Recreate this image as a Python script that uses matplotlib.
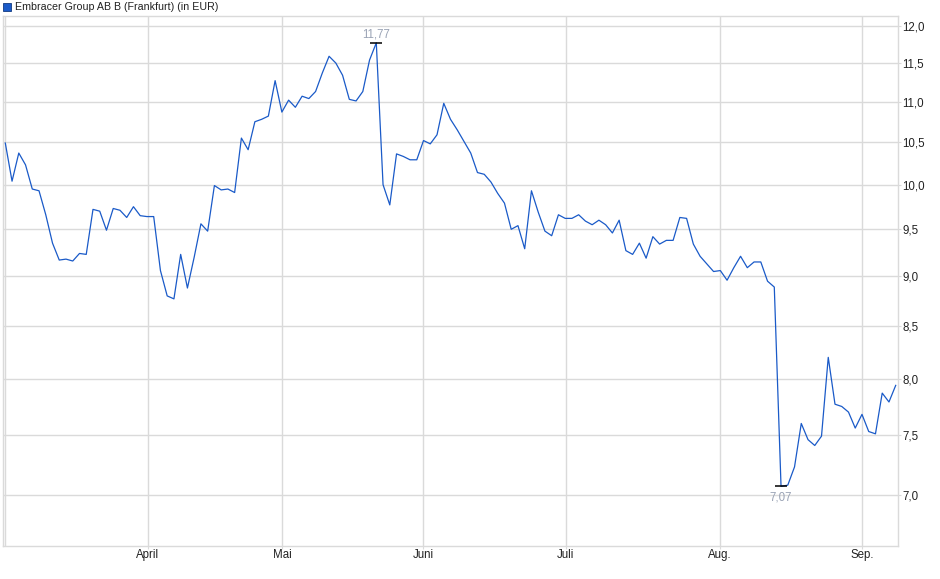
import matplotlib
matplotlib.use("Agg")
import matplotlib.pyplot as plt
from matplotlib.patches import Rectangle
from matplotlib.ticker import FixedLocator, FuncFormatter, NullLocator
import numpy as np

# daily closing prices (Frankfurt, EUR), one per trading day
prices = [
    10.49, 10.04, 10.37, 10.23, 9.95, 9.93, 9.66, 9.35, 9.17, 9.18,
    9.16, 9.24, 9.23, 9.72, 9.70, 9.49, 9.73, 9.71, 9.63, 9.75,
    9.65, 9.64, 9.64, 9.06, 8.80, 8.77, 9.23, 8.88, 9.20, 9.56,
    9.48, 9.99, 9.94, 9.95, 9.91, 10.55, 10.41, 10.75, 10.78, 10.82,
    11.27, 10.87, 11.02, 10.93, 11.07, 11.04, 11.13, 11.37, 11.59, 11.50,
    11.34, 11.03, 11.01, 11.13, 11.54, 11.77, 10.00, 9.77, 10.36, 10.33,
    10.29, 10.29, 10.52, 10.48, 10.59, 10.98, 10.78, 10.65, 10.51, 10.37,
    10.14, 10.12, 10.03, 9.90, 9.79, 9.50, 9.54, 9.29, 9.93, 9.69,
    9.48, 9.43, 9.66, 9.62, 9.62, 9.66, 9.59, 9.55, 9.60, 9.55,
    9.46, 9.60, 9.27, 9.23, 9.35, 9.19, 9.42, 9.34, 9.38, 9.38,
    9.63, 9.62, 9.34, 9.21, 9.13, 9.05, 9.06, 8.96, 9.09, 9.21,
    9.09, 9.15, 9.15, 8.95, 8.89, 7.07, 7.08, 7.23, 7.60, 7.46,
    7.41, 7.49, 8.20, 7.77, 7.75, 7.70, 7.56, 7.68, 7.53, 7.51,
    7.87, 7.79, 7.94,
]

month_labels = ["April", "Mai", "Juni", "Juli", "Aug.", "Sep."]
month_pos = [21.16, 41.02, 61.93, 83.08, 105.91, 126.97]  # trading-day index of month start
y_ticks = [7.0, 7.5, 8.0, 8.5, 9.0, 9.5, 10.0, 10.5, 11.0, 11.5, 12.0]

title = "Embracer Group AB B (Frankfurt) (in EUR)"
line_color = "#1a5ac8"
grid_color = "#dadada"
font = ["Liberation Sans", "DejaVu Sans"]

plt.rcParams["font.family"] = font
plt.rcParams["font.size"] = 8.3

x = np.arange(len(prices))

fig = plt.figure(figsize=(9.4, 5.79), dpi=100)
ax = fig.add_axes([3 / 940, 33.3 / 579, 895 / 940, 529.7 / 579])

ax.plot(x, prices, color=line_color, lw=0.9, zorder=3)

ax.set_yscale("log")
ax.set_ylim(6.604, 12.139)
ax.set_xlim(-0.34, len(prices) - 1 + 0.34)

ax.yaxis.set_major_locator(FixedLocator(y_ticks))
ax.yaxis.set_minor_locator(NullLocator())
ax.yaxis.set_major_formatter(FuncFormatter(lambda v, p: f"{v:.1f}".replace(".", ",")))
ax.yaxis.tick_right()
ax.xaxis.set_major_locator(FixedLocator(month_pos))
ax.xaxis.set_minor_locator(NullLocator())
ax.set_xticklabels(month_labels)

ax.grid(True, color=grid_color, lw=1.0, zorder=0)
ax.tick_params(axis="y", which="both", length=2, color=grid_color, pad=1, labelcolor="#222222")
ax.tick_params(axis="x", length=2, color=grid_color, pad=0.5, labelcolor="#222222")
for s in ax.spines.values():
    s.set_color(grid_color)
    s.set_linewidth(1.0)
ax.axvline(0, color=grid_color, lw=1.0, zorder=0)

# high / low markers
i_hi = int(np.argmax(prices))
i_lo = int(np.argmin(prices))
for i, off, va in [(i_hi, 2, "bottom"), (i_lo, -4, "top")]:
    ax.plot(i, prices[i], marker="_", ms=9, mew=1.1, color="black", zorder=4)
    ax.annotate(f"{prices[i]:.2f}".replace(".", ","), (i, prices[i]),
                xytext=(0, off), textcoords="offset points",
                ha="center", va=va, color="#9aa3b5", fontsize=8.3)

# title with legend square
fig.patches.append(Rectangle((3 / 940, 1 - 11 / 579), 8 / 940, 8 / 579,
                             transform=fig.transFigure, facecolor=line_color,
                             edgecolor="#123a80", lw=0.6))
fig.text(15 / 940, 1 - 7 / 579, title, ha="left", va="center",
         fontsize=7.7, color="#222222")

fig.savefig("out.png", dpi=100, facecolor="white")
